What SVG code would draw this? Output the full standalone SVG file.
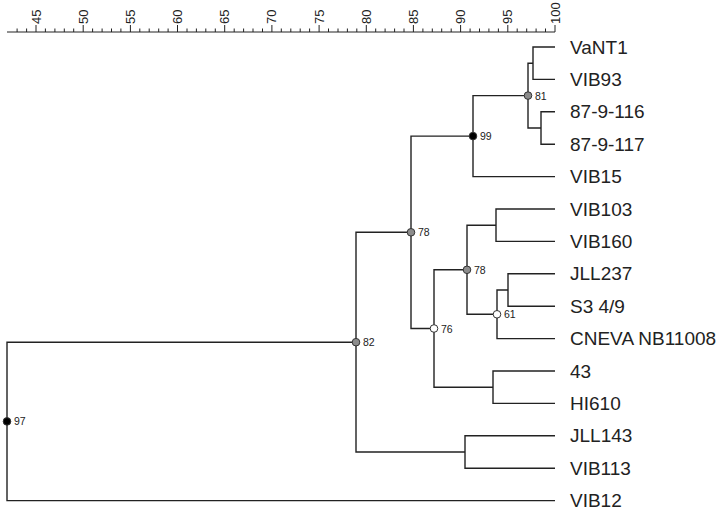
<svg xmlns="http://www.w3.org/2000/svg" width="726" height="512" viewBox="0 0 726 512">
<style>
.ln{fill:none;stroke:#222;stroke-width:1.4}
.tk{fill:none;stroke:#222;stroke-width:1}
.sc{font-family:"Liberation Sans",Arial,sans-serif;font-size:13px;fill:#222}
.lf{font-family:"Liberation Sans",Arial,sans-serif;font-size:19px;fill:#222}
.bs{font-family:"Liberation Sans",Arial,sans-serif;font-size:10.5px;fill:#222}
.nd{stroke:#333;stroke-width:1}
.blk{fill:#000}
.gry{fill:#8c8c8c}
.wht{fill:#fff}
</style>
<rect width="726" height="512" fill="#fff"/>
<g id="scale">
<path class="tk" d="M7 32H555"/>
<path class="tk" d="M17.1 32V28.5M26.6 32V28.5M45.4 32V28.5M54.9 32V28.5M64.3 32V28.5M73.7 32V28.5M92.6 32V28.5M102.1 32V28.5M111.5 32V28.5M120.9 32V28.5M139.8 32V28.5M149.2 32V28.5M158.7 32V28.5M168.1 32V28.5M187 32V28.5M196.4 32V28.5M205.8 32V28.5M215.3 32V28.5M234.2 32V28.5M243.6 32V28.5M253 32V28.5M262.5 32V28.5M281.3 32V28.5M290.8 32V28.5M300.2 32V28.5M309.6 32V28.5M328.5 32V28.5M338 32V28.5M347.4 32V28.5M356.8 32V28.5M375.7 32V28.5M385.1 32V28.5M394.6 32V28.5M404 32V28.5M422.9 32V28.5M432.3 32V28.5M441.7 32V28.5M451.2 32V28.5M470.1 32V28.5M479.5 32V28.5M488.9 32V28.5M498.4 32V28.5M517.2 32V28.5M526.7 32V28.5M536.1 32V28.5M545.5 32V28.5"/>
<path class="tk" d="M36 32V25M83.2 32V25M130.4 32V25M177.5 32V25M224.7 32V25M271.9 32V25M319.1 32V25M366.3 32V25M413.4 32V25M460.6 32V25M507.8 32V25M555 32V25"/>
<text class="sc" transform="translate(40.5,24) rotate(-90)">45</text>
<text class="sc" transform="translate(87.7,24) rotate(-90)">50</text>
<text class="sc" transform="translate(134.9,24) rotate(-90)">55</text>
<text class="sc" transform="translate(182,24) rotate(-90)">60</text>
<text class="sc" transform="translate(229.2,24) rotate(-90)">65</text>
<text class="sc" transform="translate(276.4,24) rotate(-90)">70</text>
<text class="sc" transform="translate(323.6,24) rotate(-90)">75</text>
<text class="sc" transform="translate(370.8,24) rotate(-90)">80</text>
<text class="sc" transform="translate(417.9,24) rotate(-90)">85</text>
<text class="sc" transform="translate(465.1,24) rotate(-90)">90</text>
<text class="sc" transform="translate(512.3,24) rotate(-90)">95</text>
<text class="sc" transform="translate(559.5,24) rotate(-90)">100</text>
</g>
<g id="connectors">
<path class="ln" d="M555 47H533V79.4H555"/>
<path class="ln" d="M555 111.8H541V144.2H555"/>
<path class="ln" d="M533 63.2H528V128H541"/>
<path class="ln" d="M528 95.6H473V176.6H555"/>
<path class="ln" d="M555 209H496V241.4H555"/>
<path class="ln" d="M555 273.8H508V306.2H555"/>
<path class="ln" d="M508 290H497V338.6H555"/>
<path class="ln" d="M496 225.2H467V314.3H497"/>
<path class="ln" d="M555 371H493V403.4H555"/>
<path class="ln" d="M467 269.8H434V387.2H493"/>
<path class="ln" d="M473 136.1H411V328.5H434"/>
<path class="ln" d="M555 435.8H465V468.2H555"/>
<path class="ln" d="M411 232.3H356V452H465"/>
<path class="ln" d="M356 342.2H7V500.6H555"/>
</g>
<g id="leaves">
<g id="leaf-VaNT1"><text class="lf" x="570" y="53.5">VaNT1</text></g>
<g id="leaf-VIB93"><text class="lf" x="570" y="85.9">VIB93</text></g>
<g id="leaf-87-9-116"><text class="lf" x="570" y="118.3">87-9-116</text></g>
<g id="leaf-87-9-117"><text class="lf" x="570" y="150.7">87-9-117</text></g>
<g id="leaf-VIB15"><text class="lf" x="570" y="183.1">VIB15</text></g>
<g id="leaf-VIB103"><text class="lf" x="570" y="215.5">VIB103</text></g>
<g id="leaf-VIB160"><text class="lf" x="570" y="247.9">VIB160</text></g>
<g id="leaf-JLL237"><text class="lf" x="570" y="280.3">JLL237</text></g>
<g id="leaf-S3"><text class="lf" x="570" y="312.7">S3 4/9</text></g>
<g id="leaf-CNEVA"><text class="lf" x="570" y="345.1">CNEVA NB11008</text></g>
<g id="leaf-43"><text class="lf" x="570" y="377.5">43</text></g>
<g id="leaf-HI610"><text class="lf" x="570" y="409.9">HI610</text></g>
<g id="leaf-JLL143"><text class="lf" x="570" y="442.3">JLL143</text></g>
<g id="leaf-VIB113"><text class="lf" x="570" y="474.7">VIB113</text></g>
<g id="leaf-VIB12"><text class="lf" x="570" y="507.1">VIB12</text></g>
</g>
<g id="nodes">
<g id="n81"><circle class="nd gry" cx="528" cy="95.6" r="3.8"/><text class="bs" x="535" y="99.6">81</text></g>
<g id="n99"><circle class="nd blk" cx="473" cy="136.1" r="3.8"/><text class="bs" x="480" y="140.1">99</text></g>
<g id="n78a"><circle class="nd gry" cx="411" cy="232.3" r="3.8"/><text class="bs" x="418" y="236.3">78</text></g>
<g id="n78b"><circle class="nd gry" cx="467" cy="269.8" r="3.8"/><text class="bs" x="474" y="273.8">78</text></g>
<g id="n61"><circle class="nd wht" cx="497" cy="314.3" r="3.8"/><text class="bs" x="504" y="318.3">61</text></g>
<g id="n76"><circle class="nd wht" cx="434" cy="328.5" r="3.8"/><text class="bs" x="441" y="332.5">76</text></g>
<g id="n82"><circle class="nd gry" cx="356" cy="342.2" r="3.8"/><text class="bs" x="363" y="346.2">82</text></g>
<g id="n97"><circle class="nd blk" cx="7" cy="421.4" r="3.8"/><text class="bs" x="14" y="425.4">97</text></g>
</g>
</svg>
